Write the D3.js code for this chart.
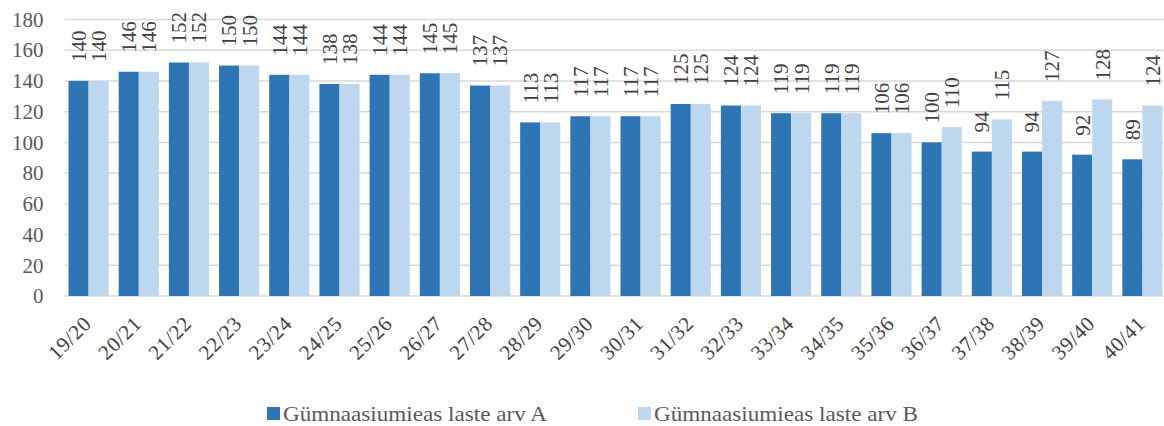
<!DOCTYPE html>
<html>
<head>
<meta charset="utf-8">
<script src="https://cdn.jsdelivr.net/npm/d3@7"></script>
<style>
body { margin: 0; background: #fff; }
</style>
</head>
<body>
<svg id="chart"></svg>
<script>
let years = ["19/20","20/21","21/22","22/23","23/24","24/25","25/26","26/27","27/28","28/29","29/30","30/31",
    "31/32","32/33","33/34","34/35","35/36","36/37","37/38","38/39","39/40","40/41"]
let valuesA = [140,146,152,150,144,138,144,145,137,113,117,117,125,124,119,119,106,100,94,94,92,89]
let valuesB = [140,146,152,150,144,138,144,145,137,113,117,117,125,124,119,119,106,110,115,127,128,124]
let seriesNames = ["Gümnaasiumieas laste arv A","Gümnaasiumieas laste arv B"]
let yTicks = [0,20,40,60,80,100,120,140,160,180]

const FONT = "'Liberation Serif', 'DejaVu Serif', serif"

function getConfig(){
    let width = 1164
    let height = 426
    let margin = { top: 19.5, left: 63.5, right: -3.5, bottom: 130 }
    let bodyWidth = width - margin.left - margin.right
    let bodyHeight = height - margin.top - margin.bottom
    let container = d3.select("#chart").attr("width", width).attr("height", height)
    return { width, height, margin, bodyWidth, bodyHeight, container }
}

function getScales(config){
    let { bodyWidth, bodyHeight } = config
    let xScale = d3.scaleBand().domain(years).range([0, bodyWidth]).paddingInner(0.2).paddingOuter(0.1)
    let xSub = d3.scaleBand().domain(["A","B"]).range([0, xScale.bandwidth()])
    let yScale = d3.scaleLinear().domain([0,180]).range([bodyHeight, 0])
    let cScale = d3.scaleOrdinal().domain(["A","B"]).range(["#2E75B6","#BDD7EE"])
    return { xScale, xSub, yScale, cScale }
}

function drawGrid(scales, config){
    let { yScale } = scales
    let { container, margin } = config
    let g = container.append("g").attr("transform", `translate(${margin.left},${margin.top})`)
    g.selectAll("line").data(yTicks).enter().append("line")
        .attr("x1", 1).attr("x2", 1100)
        .attr("y1", d => yScale(d)).attr("y2", d => yScale(d))
        .attr("stroke", "#d9d9d9").attr("stroke-width", 1.5)
    let axisY = d3.axisLeft(yScale).tickValues(yTicks).tickSize(0).tickPadding(20)
    let ay = container.append("g").attr("transform", `translate(${margin.left},${margin.top})`).call(axisY)
    ay.select(".domain").remove()
    ay.selectAll("text")
        .style("font-family", FONT)
        .style("font-size", "21px")
        .attr("fill", "#595959")
}

function drawBars(scales, config){
    let { xScale, xSub, yScale, cScale } = scales
    let { container, margin } = config
    let rows = []
    years.forEach((y, i) => {
        rows.push({ year: y, key: "A", value: valuesA[i] })
        rows.push({ year: y, key: "B", value: valuesB[i] })
    })
    let body = container.append("g").attr("transform", `translate(${margin.left},${margin.top})`)
    body.selectAll("rect").data(rows).enter().append("rect")
        .attr("x", d => xScale(d.year) + xSub(d.key))
        .attr("width", xSub.bandwidth())
        .attr("y", d => yScale(d.value))
        .attr("height", d => yScale(0) - yScale(d.value))
        .attr("fill", d => cScale(d.key))
    body.selectAll("text.val").data(rows).enter().append("text")
        .attr("class", "val")
        .attr("transform", d => {
            let cx = xScale(d.year) + xSub(d.key) + xSub.bandwidth() / 2
            return `translate(${cx},${yScale(d.value) - 19}) rotate(-90)`
        })
        .attr("dy", "0.35em")
        .attr("text-anchor", "start")
        .style("font-family", FONT)
        .style("font-size", "21px")
        .attr("fill", "#404040")
        .text(d => d.value)
}

function drawXAxis(scales, config){
    let { xScale } = scales
    let { container, margin, bodyHeight } = config
    let axisX = d3.axisBottom(xScale).tickSize(0).tickPadding(0)
    let ax = container.append("g").attr("transform", `translate(${margin.left},${margin.top + bodyHeight})`).call(axisX)
    ax.select(".domain").remove()
    ax.selectAll("text")
        .attr("y", 0).attr("dy", 0)
        .attr("text-anchor", "end")
        .attr("transform", "translate(4,29) rotate(-45)")
        .style("font-family", FONT)
        .style("font-size", "21px")
        .style("letter-spacing", "0.6px")
        .attr("fill", "#404040")
}

function drawLegend(scales, config){
    let { cScale } = scales
    let { container } = config
    let xs = [267, 638]
    let g = container.append("g")
    ;["A","B"].forEach((k, i) => {
        g.append("rect").attr("x", xs[i]).attr("y", 407).attr("width", 13).attr("height", 13).attr("fill", cScale(k))
        g.append("text").attr("x", xs[i] + 16).attr("y", 421)
            .attr("textLength", 264).attr("lengthAdjust", "spacingAndGlyphs")
            .style("font-family", FONT)
            .style("font-size", "21px").attr("fill", "#595959").text(seriesNames[i])
    })
}

let config = getConfig()
let scales = getScales(config)
drawGrid(scales, config)
drawBars(scales, config)
drawXAxis(scales, config)
drawLegend(scales, config)
</script>
</body>
</html>
